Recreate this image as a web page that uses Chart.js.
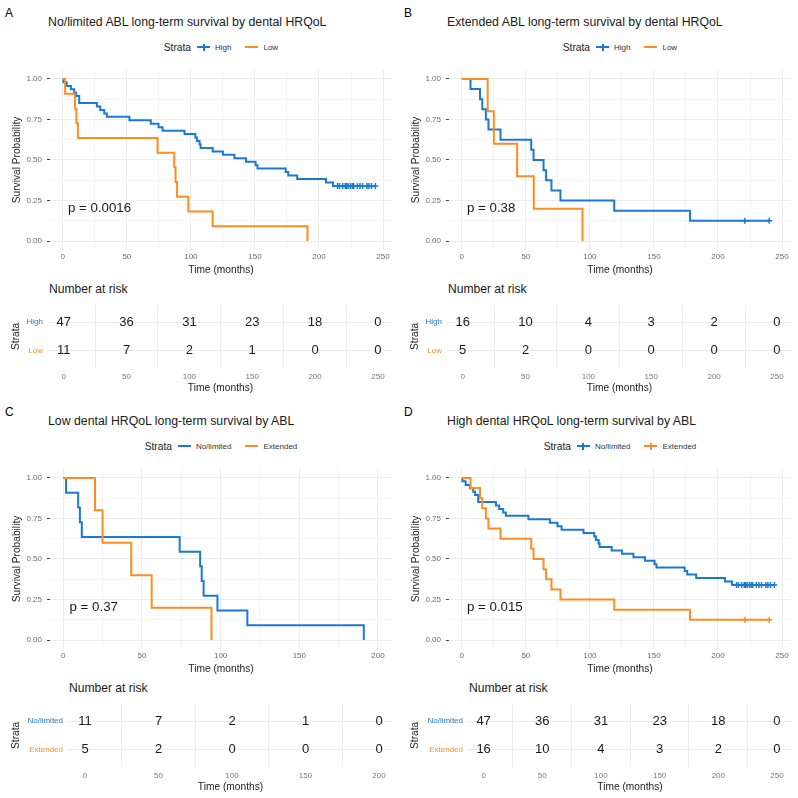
<!DOCTYPE html>
<html>
<head>
<meta charset="utf-8">
<title>Long-term survival by dental HRQoL and ABL</title>
<script src="https://cdn.jsdelivr.net/npm/chart.js@4.4.1/dist/chart.umd.min.js"></script>
<style>
  body { margin: 0; background: #fff; }
  #page { position: relative; width: 798px; height: 798px; overflow: hidden;
          font-family: "Liberation Sans", Arial, sans-serif; color: #1a1a1a; }
  #page canvas { position: absolute; }
  .txt { position: absolute; white-space: nowrap; line-height: 1; }
  .legend { position: absolute; display: flex; justify-content: center; align-items: center; height: 14px; }
  .key { position: relative; display: inline-block; width: 13px; height: 2px; margin-right: 5px; }
  .key.cens::after { content: ''; position: absolute; left: 5.5px; top: -2.5px; width: 2px; height: 7px; background: inherit; }
</style>
</head>
<body>
<div id="page"></div>
<script>
// survival curves (time in months, survival after each step)
// No/limited ABL + high dental HRQoL (n = 47)
const timeNoHigh = [0, 0.5, 3, 6.3, 8.9, 10.4, 12.8, 26.6, 29.2, 32.3, 34.4, 52, 68.7, 74.7, 77.9, 95, 103.4, 104.7, 106.8, 107.6, 117, 125, 134, 143, 150.5, 152, 174, 176, 183, 205.5, 211, 244];
const survNoHigh = [1, 0.979, 0.957, 0.936, 0.915, 0.894, 0.851, 0.830, 0.809, 0.787, 0.766, 0.745, 0.723, 0.702, 0.681, 0.660, 0.638, 0.617, 0.596, 0.574, 0.553, 0.532, 0.511, 0.489, 0.468, 0.447, 0.426, 0.404, 0.383, 0.362, 0.340, 0.340];
const censNoHigh = [214.5, 216, 218.5, 220.5, 221.5, 222.7, 224.5, 226, 227, 230, 232, 234, 237.5, 239, 241, 244];

// No/limited ABL + low dental HRQoL (n = 11)
const timeNoLow = [0, 1.8, 9.5, 10.6, 11.8, 74, 87, 88, 89.2, 98, 117, 191];
const survNoLow = [1, 0.909, 0.818, 0.727, 0.636, 0.545, 0.455, 0.364, 0.273, 0.182, 0.091, 0];
const censNoLow = [];

// Extended ABL + high dental HRQoL (n = 16)
const timeExtHigh = [0, 6.8, 14.2, 16, 18.8, 20.8, 30.2, 54.2, 56, 63.8, 65.8, 70, 77, 119, 178.2, 240];
const survExtHigh = [1, 0.9375, 0.875, 0.8125, 0.75, 0.6875, 0.625, 0.5625, 0.5, 0.4375, 0.375, 0.3125, 0.25, 0.1875, 0.125, 0.125];
const censExtHigh = [221, 240];

// Extended ABL + low dental HRQoL (n = 5)
const timeExtLow = [0, 20.2, 25, 43.2, 56.2, 94.2];
const survExtLow = [1, 0.8, 0.6, 0.4, 0.2, 0];
const censExtLow = [];

// number at risk tables
const riskTimes250 = [0, 50, 100, 150, 200, 250];
const riskTimes200 = [0, 50, 100, 150, 200];
const riskAHigh = [47, 36, 31, 23, 18, 0];
const riskALow = [11, 7, 2, 1, 0, 0];
const riskBHigh = [16, 10, 4, 3, 2, 0];
const riskBLow = [5, 2, 0, 0, 0, 0];
const riskCNo = [11, 7, 2, 1, 0];
const riskCExt = [5, 2, 0, 0, 0];
const riskDNo = [47, 36, 31, 23, 18, 0];
const riskDExt = [16, 10, 4, 3, 2, 0];

// axis ticks
const xMajor250 = [0, 50, 100, 150, 200, 250];
const xMinor250 = [25, 75, 125, 175, 225];
const xMajor200 = [0, 50, 100, 150, 200];
const xMinor200 = [25, 75, 125, 175];
const yMajor = [0, 0.25, 0.5, 0.75, 1];
const yMinor = [0.125, 0.375, 0.625, 0.875];

const strataHRQoL = ['High', 'Low'];
const strataABL = ['No/limited', 'Extended'];
const pValues = ['p = 0.0016', 'p = 0.38', 'p = 0.37', 'p = 0.015'];

const colors = ['#1b79d3', '#ff8c1f'];
const font = '"Liberation Sans", Arial, sans-serif';
Chart.defaults.font.family = font;
Chart.defaults.animation = false;

const noHigh = { time: timeNoHigh, surv: survNoHigh, cens: censNoHigh };
const noLow = { time: timeNoLow, surv: survNoLow, cens: censNoLow };
const extHigh = { time: timeExtHigh, surv: survExtHigh, cens: censExtHigh };
const extLow = { time: timeExtLow, surv: survExtLow, cens: censExtLow };

const panels = [
  { letter: 'A', ox: 0, oy: 0, title: 'No/limited ABL long-term survival by dental HRQoL',
    names: strataHRQoL, groups: [noHigh, noLow], pval: pValues[0],
    xMajor: xMajor250, xMinor: xMinor250, kmMin: -10, kmMax: 257,
    riskTimes: riskTimes250, risk: [riskAHigh, riskALow], rMin: -12.5, rMax: 262, rLeft: 48 },
  { letter: 'B', ox: 399, oy: 0, title: 'Extended ABL long-term survival by dental HRQoL',
    names: strataHRQoL, groups: [extHigh, extLow], pval: pValues[1],
    xMajor: xMajor250, xMinor: xMinor250, kmMin: -10, kmMax: 257,
    riskTimes: riskTimes250, risk: [riskBHigh, riskBLow], rMin: -12.5, rMax: 262, rLeft: 48 },
  { letter: 'C', ox: 0, oy: 399, title: 'Low dental HRQoL long-term survival by ABL',
    names: strataABL, groups: [noLow, extLow], pval: pValues[2],
    xMajor: xMajor200, xMinor: xMinor200, kmMin: -8.4, kmMax: 208.9,
    riskTimes: riskTimes200, risk: [riskCNo, riskCExt], rMin: -11.6, rMax: 209.5, rLeft: 68 },
  { letter: 'D', ox: 399, oy: 399, title: 'High dental HRQoL long-term survival by ABL',
    names: strataABL, groups: [noHigh, extHigh], pval: pValues[3],
    xMajor: xMajor250, xMinor: xMinor250, kmMin: -10, kmMax: 257,
    riskTimes: riskTimes250, risk: [riskDNo, riskDExt], rMin: -13.3, rMax: 262.8, rLeft: 69 }
];

const page = document.getElementById('page');

function addText(str, left, top, size, color) {
  const d = document.createElement('div');
  d.className = 'txt';
  d.textContent = str;
  d.style.left = left + 'px';
  d.style.top = top + 'px';
  d.style.fontSize = size + 'px';
  d.style.color = color;
  page.appendChild(d);
  return d;
}

function addCanvas(left, top, w, h) {
  const c = document.createElement('canvas');
  c.width = w; c.height = h;
  c.style.left = left + 'px'; c.style.top = top + 'px';
  c.style.width = w + 'px'; c.style.height = h + 'px';
  page.appendChild(c);
  return c;
}

function stepValue(g, t) {
  let v = g.surv[0];
  g.time.forEach((x, i) => { if (x <= t) v = g.surv[i]; });
  return v;
}

function merged(a, b) {
  return a.concat(b).sort((p, q) => p - q);
}

function kmChart(p) {
  const canvas = addCanvas(p.ox, p.oy + 60, 399, 220);
  const datasets = [];
  p.groups.forEach((g, i) => {
    datasets.push({
      data: g.time.map((t, j) => ({ x: t, y: g.surv[j] })),
      borderColor: colors[i], borderWidth: 2, pointRadius: 0,
      stepped: 'before', fill: false, order: 2 - i
    });
    if (g.cens.length) {
      datasets.push({
        data: g.cens.map(t => ({ x: t, y: stepValue(g, t) })),
        showLine: false, pointStyle: 'cross', pointRadius: 3,
        pointBorderColor: colors[i], pointBorderWidth: 1.5, order: 0
      });
    }
  });
  const xGrid = merged(p.xMajor, p.xMinor);
  const yGrid = merged(yMajor, yMinor);
  const pvalPlugin = {
    id: 'pval',
    afterDatasetsDraw(chart) {
      const ctx = chart.ctx;
      ctx.save();
      ctx.font = '13.3px ' + font;
      ctx.fillStyle = '#1a1a1a';
      ctx.textAlign = 'left';
      ctx.textBaseline = 'middle';
      ctx.fillText(p.pval, chart.scales.x.getPixelForValue(4), chart.scales.y.getPixelForValue(0.2));
      ctx.restore();
    }
  };
  new Chart(canvas, {
    type: 'line',
    data: { datasets },
    options: {
      responsive: false,
      events: [],
      layout: { padding: { top: 10, right: 7, bottom: 0, left: 0 } },
      plugins: { legend: { display: false }, tooltip: { enabled: false } },
      scales: {
        x: {
          type: 'linear', min: p.kmMin, max: p.kmMax,
          afterBuildTicks: ax => { ax.ticks = xGrid.map(v => ({ value: v })); },
          afterFit: s => { s.height = 30; },
          ticks: {
            autoSkip: false, maxRotation: 0, padding: 2.2, color: '#6b6b6b', font: { size: 8 },
            callback: v => (p.xMajor.includes(v) ? String(v) : '')
          },
          grid: {
            drawTicks: false,
            color: c => (p.xMajor.includes(c.tick.value) ? '#ebebeb' : '#f5f5f5')
          },
          border: { display: false },
          title: { display: true, text: 'Time (months)', color: '#222', font: { size: 10.2 },
                   padding: { top: 0, bottom: 4 } }
        },
        y: {
          type: 'linear', min: -0.055, max: 1.055,
          afterBuildTicks: ax => { ax.ticks = yGrid.map(v => ({ value: v })); },
          afterFit: s => { s.width = 50; },
          ticks: {
            autoSkip: false, padding: 5, color: '#6b6b6b', font: { size: 8 },
            callback: v => (yMajor.includes(v) ? v.toFixed(2) : '')
          },
          grid: {
            tickLength: 3,
            tickColor: c => (yMajor.includes(c.tick.value) ? '#444' : 'rgba(0,0,0,0)'),
            color: c => (yMajor.includes(c.tick.value) ? '#ebebeb' : '#f5f5f5')
          },
          border: { display: false },
          title: { display: true, text: 'Survival Probability', color: '#222', font: { size: 10.2 },
                   padding: { top: 11.2, bottom: 0 } }
        }
      }
    },
    plugins: [pvalPlugin]
  });
}

function riskChart(p) {
  const canvas = addCanvas(p.ox, p.oy + 295, 399, 101);
  const rows = p.risk.map((r, i) => i);
  const datasets = p.risk.map((row, i) => ({
    data: p.riskTimes.map((t, j) => ({ x: t, y: i, n: row[j] })),
    showLine: false, pointRadius: 0
  }));
  const xGrid = merged(p.xMajor, p.xMinor);
  const numbersPlugin = {
    id: 'riskNumbers',
    afterDatasetsDraw(chart) {
      const ctx = chart.ctx;
      ctx.save();
      ctx.font = '13px ' + font;
      ctx.fillStyle = '#1a1a1a';
      ctx.textAlign = 'center';
      ctx.textBaseline = 'middle';
      chart.data.datasets.forEach((ds, i) => {
        chart.getDatasetMeta(i).data.forEach((el, j) => {
          ctx.fillText(String(ds.data[j].n), el.x, el.y);
        });
      });
      ctx.restore();
    }
  };
  new Chart(canvas, {
    type: 'line',
    data: { datasets },
    options: {
      responsive: false,
      events: [],
      layout: { padding: { top: 7, right: 6, bottom: 0, left: 0 } },
      plugins: { legend: { display: false }, tooltip: { enabled: false } },
      scales: {
        x: {
          type: 'linear', min: p.rMin, max: p.rMax,
          afterBuildTicks: ax => { ax.ticks = xGrid.map(v => ({ value: v })); },
          afterFit: s => { s.height = 28; },
          ticks: {
            autoSkip: false, maxRotation: 0, padding: 3.9, color: '#7a7a7a', font: { size: 8 },
            callback: v => (p.xMajor.includes(v) ? String(v) : '')
          },
          grid: {
            drawTicks: false,
            color: c => (p.xMajor.includes(c.tick.value) ? 'rgba(0,0,0,0)' : '#ebebeb')
          },
          border: { display: false },
          title: { display: true, text: 'Time (months)', color: '#222', font: { size: 10.2 },
                   padding: { top: 0, bottom: 1.6 } }
        },
        y: {
          type: 'linear', reverse: true, min: -0.6, max: 1.6,
          afterBuildTicks: ax => { ax.ticks = rows.map(v => ({ value: v })); },
          afterFit: s => { s.width = p.rLeft; },
          ticks: {
            autoSkip: false, padding: 5, font: { size: 8 },
            color: c => colors[c.index],
            callback: v => p.names[v]
          },
          grid: { drawTicks: false, color: '#ebebeb' },
          border: { display: false },
          title: { display: true, text: 'Strata', color: '#222', font: { size: 10.2 },
                   padding: { top: 9.9, bottom: 0 } }
        }
      }
    },
    plugins: [numbersPlugin]
  });
}

function legend(p) {
  const box = document.createElement('div');
  box.className = 'legend';
  box.style.left = (p.ox + 50) + 'px';
  box.style.width = '342px';
  box.style.top = (p.oy + 40) + 'px';
  const head = document.createElement('span');
  head.textContent = 'Strata';
  head.style.fontSize = '10.2px';
  head.style.color = '#222';
  head.style.marginRight = '6px';
  box.appendChild(head);
  p.names.forEach((name, i) => {
    const key = document.createElement('span');
    key.className = 'key' + (p.groups[i].cens.length ? ' cens' : '');
    key.style.background = colors[i];
    box.appendChild(key);
    const lab = document.createElement('span');
    lab.textContent = name;
    lab.style.fontSize = '8px';
    lab.style.color = '#333';
    if (i < p.names.length - 1) lab.style.marginRight = '14px';
    box.appendChild(lab);
  });
  page.appendChild(box);
}

panels.forEach(p => {
  addText(p.letter, p.ox + 5, p.oy + 7, 12, '#000');
  addText(p.title, p.ox + 48, p.oy + 15.6, 12.3, '#1a1a1a');
  legend(p);
  kmChart(p);
  addText('Number at risk', p.ox + p.rLeft + 1, p.oy + 283.3, 12.1, '#1a1a1a');
  riskChart(p);
});
</script>
</body>
</html>
